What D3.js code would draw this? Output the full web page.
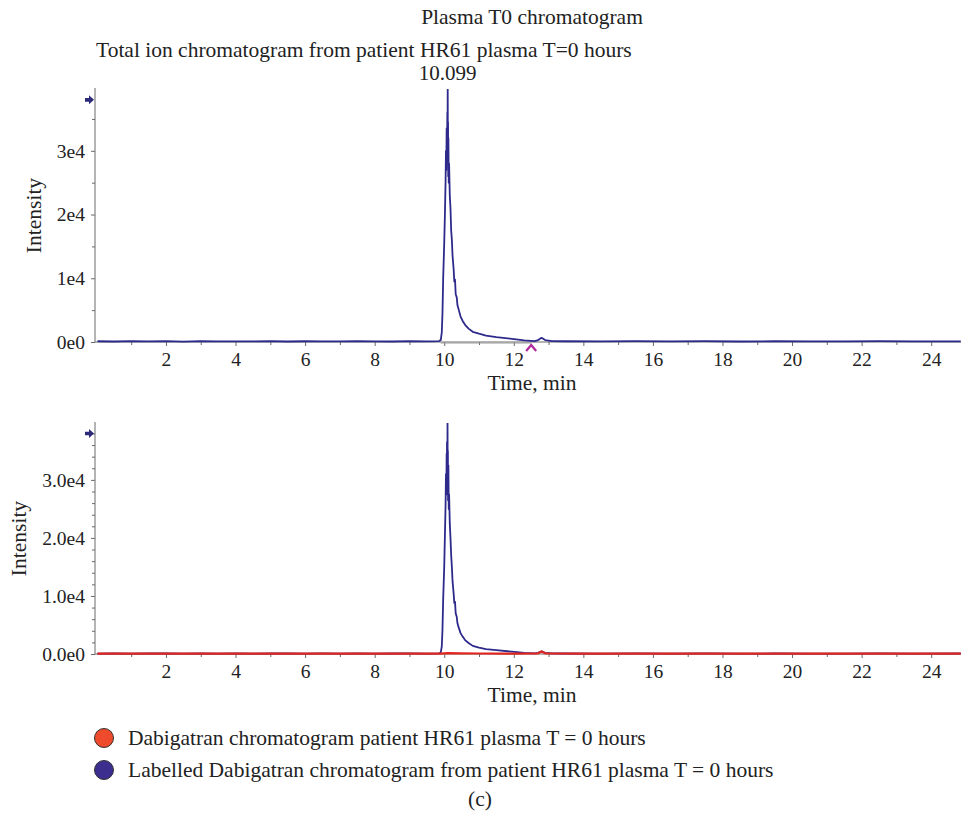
<!doctype html>
<html>
<head>
<meta charset="utf-8">
<title>Plasma T0 chromatogram</title>
<script src="https://cdn.jsdelivr.net/npm/d3@7"></script>
<style>
  body { margin: 0; background: #fff; }
  text { font-family: "Liberation Serif", "DejaVu Serif", serif; fill: #222; }
</style>
</head>
<body>
<svg width="961" height="818"></svg>
<script>
// total ion chromatogram, top panel (time in min, intensity in counts)
var ticTime = [0.03, 0.5, 1.0, 1.5, 2.0, 2.5, 3.0, 3.5, 4.0, 4.5, 5.0, 5.5, 6.0, 6.5, 7.0, 7.5, 8.0, 8.5, 9.0, 9.5,
  9.85, 9.9, 9.93, 9.95, 9.97, 10.0, 10.02, 10.04, 10.05, 10.06, 10.07, 10.08, 10.09, 10.095, 10.1, 10.105, 10.11,
  10.115, 10.12, 10.13, 10.14, 10.16, 10.18, 10.2, 10.22, 10.24, 10.27, 10.29, 10.31, 10.33, 10.36, 10.38, 10.42,
  10.47, 10.53, 10.6, 10.7, 10.82, 11.0, 11.2, 11.5, 11.95, 12.3, 12.6, 12.7, 12.8, 12.9, 13.1, 13.5,
  14.5, 15.5, 16.5, 17.5, 18.5, 19.5, 20.5, 21.5, 22.5, 23.5, 24.85];
var ticIntensity = [120, 80, 150, 90, 130, 70, 140, 100, 110, 90, 150, 80, 120, 100, 90, 140, 110, 80, 130, 100,
  150, 300, 1500, 4500, 10000, 15500, 20000, 25500, 30000, 27000, 33500, 29000, 36000, 31000, 39700, 30000, 34500,
  26000, 32000, 25000, 28000, 23000, 21000, 17500, 16000, 13500, 11500, 9500, 9800, 7500, 7000, 5800, 5000,
  4000, 3300, 2700, 2100, 1600, 1300, 1000, 750, 500, 250, 150, 300, 650, 300, 150, 120,
  90, 140, 100, 130, 80, 120, 110, 90, 140, 100, 110];

// labelled dabigatran, bottom panel
var labTime = [0.03, 0.5, 1.0, 1.5, 2.0, 2.5, 3.0, 3.5, 4.0, 4.5, 5.0, 5.5, 6.0, 6.5, 7.0, 7.5, 8.0, 8.5, 9.0, 9.5,
  9.85, 9.9, 9.93, 9.95, 9.97, 10.0, 10.02, 10.04, 10.05, 10.06, 10.07, 10.075, 10.08, 10.09, 10.095, 10.1, 10.105,
  10.11, 10.12, 10.13, 10.14, 10.16, 10.18, 10.2, 10.22, 10.24, 10.27, 10.29, 10.31, 10.33, 10.36, 10.38, 10.42,
  10.47, 10.53, 10.6, 10.7, 10.82, 11.0, 11.2, 11.5, 11.95, 12.3, 12.6, 12.7, 12.8, 12.9, 13.1, 13.5,
  14.5, 15.5, 16.5, 17.5, 18.5, 19.5, 20.5, 21.5, 22.5, 23.5, 24.85];
var labIntensity = [80, 110, 60, 120, 90, 70, 100, 60, 110, 80, 90, 120, 70, 100, 80, 110, 60, 90, 100, 80,
  120, 250, 1300, 4200, 9500, 15000, 20500, 26000, 31000, 27500, 34500, 30000, 36500, 32000, 39900, 30500, 35000,
  26500, 32500, 25000, 27500, 22500, 20000, 17000, 15000, 12500, 10500, 8800, 9000, 7000, 6400, 5300, 4500,
  3600, 3000, 2400, 1900, 1400, 1100, 850, 650, 400, 200, 120, 200, 450, 200, 100, 90,
  70, 110, 80, 100, 60, 90, 80, 70, 100, 80, 90];

// dabigatran, bottom panel
var dabTime = [0.03, 2, 4, 6, 8, 9.9, 10.1, 10.5, 11, 12, 12.7, 12.8, 12.9, 14, 16, 18, 20, 22, 24, 24.85];
var dabIntensity = [60, 80, 50, 70, 60, 70, 150, 120, 90, 70, 120, 450, 120, 60, 80, 50, 70, 60, 80, 60];

var majorX = [2, 4, 6, 8, 10, 12, 14, 16, 18, 20, 22, 24];
var minorX = [1, 3, 5, 7, 9, 11, 13, 15, 17, 19, 21, 23];
var topTicks = [0, 1e4, 2e4, 3e4];
var topLabels = ["0e0", "1e4", "2e4", "3e4"];
var botTicks = [0, 1e4, 2e4, 3e4];
var botLabels = ["0.0e0", "1.0e4", "2.0e4", "3.0e4"];

var legendNames = ["Dabigatran chromatogram patient HR61 plasma T = 0 hours",
  "Labelled Dabigatran chromatogram from patient HR61 plasma T = 0 hours"];
var legendColors = ["#ee4a2c", "#3b2e8e"];

var svg = d3.select("svg");
var blue = "#2d2a8c", red = "#e2261f", axisColor = "#6a6a6a";
var serif = "'Liberation Serif', 'DejaVu Serif', serif";

var x = d3.scaleLinear().domain([0, 24.8]).range([96.4, 959]);

function addText(sel, size) {
  return sel.append("text").attr("font-size", size).attr("font-family", serif).attr("fill", "#222");
}

function panel(top, bottom, ymax, minorStep, tickVals, tickLabels, series, labelX, id) {
  var y = d3.scaleLinear().domain([0, ymax]).range([bottom, top]);
  var g = svg.append("g");

  g.append("clipPath").attr("id", id).append("rect")
    .attr("x", 95).attr("y", top).attr("width", 866).attr("height", bottom - top + 2);

  // x axis
  var xa = g.append("g").attr("transform", "translate(0," + bottom + ")")
    .call(d3.axisBottom(x).tickValues(majorX).tickSize(4).tickPadding(6).tickFormat(d3.format("d")));
  g.append("g").attr("transform", "translate(0," + bottom + ")")
    .call(d3.axisBottom(x).tickValues(minorX).tickSize(3).tickFormat(""))
    .select(".domain").remove();
  xa.select(".domain").attr("d", "M95,0H961");

  // y axis
  var minors = d3.range(0, ymax, minorStep).filter(function(v) { return tickVals.indexOf(Math.round(v)) < 0; });
  var ya = g.append("g").attr("transform", "translate(95,0)")
    .call(d3.axisLeft(y).tickValues(tickVals).tickSize(4).tickPadding(6)
      .tickFormat(function(d, i) { return tickLabels[i]; }));
  ya.select(".domain").attr("d", "M0," + bottom + "V" + (top - 1));
  g.append("g").attr("transform", "translate(95,0)")
    .call(d3.axisLeft(y).tickValues(minors).tickSize(3).tickFormat(""))
    .select(".domain").remove();

  g.selectAll("g").attr("font-family", serif);
  g.selectAll(".domain, .tick line").attr("stroke", axisColor);
  g.selectAll(".tick text").attr("font-size", 19.5).attr("fill", "#222");

  // marker arrow on y axis
  var ay = y(3.8e4);
  g.append("path")
    .attr("d", "M85," + (ay - 1.8) + "H89V" + (ay - 4.5) + "L94," + ay + "L89," + (ay + 4.5) + "V" + (ay + 1.8) + "H85Z")
    .attr("fill", "#2d2a7a");

  var line = d3.line().x(function(d) { return x(d[0]); }).y(function(d) { return y(d[1]); });
  var plot = g.append("g").attr("clip-path", "url(#" + id + ")");
  series.forEach(function(s) {
    plot.append("path")
      .datum(d3.zip(s.t, s.v))
      .attr("d", line)
      .attr("fill", "none")
      .attr("stroke", s.color)
      .attr("stroke-width", s.w)
      .attr("stroke-linejoin", "round");
  });

  addText(g, 21.5).attr("x", 532).attr("y", bottom + 48).attr("text-anchor", "middle").text("Time, min");
  addText(g, 21.5).attr("transform", "translate(" + labelX + "," + ((top + bottom) / 2) + ") rotate(-90)")
    .attr("text-anchor", "middle").text("Intensity");

  return y;
}

addText(svg, 21.5).attr("x", 532).attr("y", 24).attr("text-anchor", "middle").text("Plasma T0 chromatogram");
addText(svg, 21.5).attr("x", 96).attr("y", 57).text("Total ion chromatogram from patient HR61 plasma T=0 hours");
addText(svg, 21).attr("x", x(10.099)).attr("y", 80).attr("text-anchor", "middle").text("10.099");

var yTop = panel(89, 342, 3.97e4, 5000, topTicks, topLabels,
  [{ t: ticTime, v: ticIntensity, color: blue, w: 1.8 }], 41, "clipTop");

// integration baseline and peak end marker in the top panel
svg.append("line").attr("x1", x(9.9)).attr("x2", x(12.5)).attr("y1", yTop(0) + 1).attr("y2", yTop(0) + 1)
  .attr("stroke", "#9a9a9a").attr("stroke-width", 1.2);
svg.append("path")
  .attr("d", "M" + (x(12.5) - 5) + "," + (yTop(0) + 9) + "L" + x(12.5) + "," + (yTop(0) + 3) + "L" + (x(12.5) + 5) + "," + (yTop(0) + 9))
  .attr("fill", "none").attr("stroke", "#b0289c").attr("stroke-width", 2.2);

panel(423, 654, 3.98e4, 2000, botTicks, botLabels,
  [{ t: labTime, v: labIntensity, color: blue, w: 1.8 },
   { t: dabTime, v: dabIntensity, color: red, w: 2.2 }], 26, "clipBot");

// legend
var leg = svg.append("g");
legendNames.forEach(function(name, i) {
  var cy = 738 + i * 32;
  leg.append("circle").attr("cx", 104).attr("cy", cy).attr("r", 9.5)
    .attr("fill", legendColors[i]).attr("stroke", "#333").attr("stroke-width", 1);
  addText(leg, 21.5).attr("x", 128).attr("y", cy + 7).text(name);
});
addText(svg, 21.5).attr("x", 480).attr("y", 806).attr("text-anchor", "middle").text("(c)");
</script>
</body>
</html>
